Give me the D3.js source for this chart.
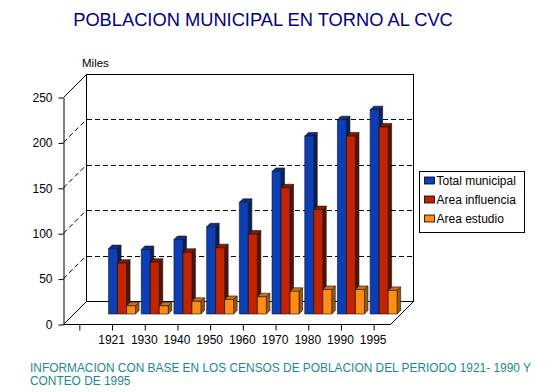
<!DOCTYPE html>
<html lang="es">
<head>
<meta charset="utf-8">
<title>Poblacion municipal</title>
<script src="https://cdnjs.cloudflare.com/ajax/libs/d3/7.8.5/d3.min.js"></script>
<style>
  body { margin: 0; background: #fff; }
  svg { display: block; font-family: "Liberation Sans", Arial, sans-serif; }
  .axis text { font-size: 12px; fill: #000; }
  .axis path, .axis line { stroke: #000; }
</style>
</head>
<body>
<div id="chart"></div>
<script>
// data (miles de habitantes)
const years = ["1921", "1930", "1940", "1950", "1960", "1970", "1980", "1990", "1995"];
const totalMunicipal = [72, 71, 82, 96, 123, 157, 196, 214, 225];
const areaInfluencia = [56, 57, 68, 73, 88, 139, 115, 196, 206];
const areaEstudio = [9, 9, 14, 16, 19, 25, 27, 27, 26];
const seriesNames = ["Total municipal", "Area influencia", "Area estudio"];
const yTicks = [0, 50, 100, 150, 200, 250];
const gridValues = [50, 100, 150, 200];

const width = 550, height = 392;
const plotLeft = 63, plotRight = 390, plotBottom = 324, plotTop = 97;
const depth = 23;      // offset of back wall
const barZ = 10;       // how far back the bars stand
const barD = 3.5;      // bar thickness

// colours: front, top, side
const colors = [
  ["#0c3fb6", "#0a2f8c", "#07215f"],
  ["#c22300", "#8c1a00", "#5a1200"],
  ["#ff8c14", "#c77416", "#9a5a0e"]
];

const svg = d3.select("#chart").append("svg")
  .attr("width", width)
  .attr("height", height);

const step = (plotRight - plotLeft) / (years.length + 1);
const x = d3.scaleBand().domain(years).range([plotLeft + step, plotRight]);
const y = d3.scaleLinear().domain([0, 250]).range([plotBottom, plotTop]);
const s = d3.scaleBand().domain(seriesNames).range([-13.5, 13.5]);

const values = [totalMunicipal, areaInfluencia, areaEstudio];

// walls and floor
const walls = svg.append("g").attr("fill", "#fff").attr("stroke", "#000").attr("stroke-width", 1);
walls.append("rect")
  .attr("x", plotLeft + depth + 0.5).attr("y", y(250) - depth + 0.5)
  .attr("width", plotRight - plotLeft).attr("height", y(0) - y(250));
walls.append("path")
  .attr("d", d3.line()([[plotLeft, y(0)], [plotRight, y(0)], [plotRight + depth, y(0) - depth], [plotLeft + depth, y(0) - depth]]) + "Z")
  .attr("transform", "translate(0.5,0.5)");
walls.append("line")
  .attr("x1", plotLeft + 0.5).attr("y1", y(250) + 0.5)
  .attr("x2", plotLeft + depth + 0.5).attr("y2", y(250) - depth + 0.5);

// dashed grid lines on back and side walls
const grid = svg.append("g").attr("stroke", "#000").attr("stroke-dasharray", "5,3").attr("fill", "none");
grid.selectAll("line.back").data(gridValues).enter().append("line")
  .attr("class", "back")
  .attr("x1", plotLeft + depth + 1).attr("x2", plotRight + depth)
  .attr("y1", d => Math.round(y(d) - depth) + 0.5)
  .attr("y2", d => Math.round(y(d) - depth) + 0.5);
grid.selectAll("line.side").data(gridValues).enter().append("line")
  .attr("class", "side")
  .attr("x1", plotLeft + 0.5).attr("y1", d => y(d))
  .attr("x2", plotLeft + depth + 0.5).attr("y2", d => y(d) - depth);

// bars
const bars = [];
years.forEach((yr, i) => {
  seriesNames.forEach((name, j) => {
    bars.push({ year: yr, series: j, value: values[j][i], name: name });
  });
});

const barG = svg.append("g").attr("stroke", "#111").attr("stroke-width", 0.6).attr("stroke-linejoin", "round");
bars.forEach(d => {
  const x0 = x(d.year) + x.bandwidth() / 2 + s(d.name) + barZ;
  const w = s.bandwidth();
  const yb = y(0) - barZ;
  const yt = y(d.value) - barZ;
  const c = colors[d.series];
  barG.append("path")
    .attr("d", d3.line()([[x0 + w, yt], [x0 + w + barD, yt - barD], [x0 + w + barD, yb - barD], [x0 + w, yb]]) + "Z")
    .attr("fill", c[2]);
  barG.append("path")
    .attr("d", d3.line()([[x0, yt], [x0 + barD, yt - barD], [x0 + w + barD, yt - barD], [x0 + w, yt]]) + "Z")
    .attr("fill", c[1]);
  barG.append("rect")
    .attr("x", x0).attr("y", yt)
    .attr("width", w).attr("height", yb - yt)
    .attr("fill", c[0]);
});

// axes
const yAxis = d3.axisLeft(y).tickValues(yTicks).tickSize(5).tickSizeOuter(0).tickPadding(6);
svg.append("g")
  .attr("class", "axis y")
  .attr("transform", `translate(${plotLeft + 0.5},0.5)`)
  .call(yAxis)
  .selectAll("text").attr("font-size", "12.5px");

const xAxis = d3.axisBottom(x).tickSize(6).tickSizeOuter(0).tickPadding(5);
const xg = svg.append("g")
  .attr("class", "axis x")
  .attr("transform", `translate(0.5,${plotBottom + 0.5})`)
  .call(xAxis);
xg.select(".domain").remove();
xg.selectAll(".tick text").attr("dx", -1);
xg.append("line")
  .attr("x1", plotLeft + step / 2).attr("x2", plotLeft + step / 2)
  .attr("y1", 0).attr("y2", 6)
  .attr("stroke", "#000");

// legend
const legend = svg.append("g").attr("transform", "translate(419.5,171.5)");
legend.append("rect")
  .attr("width", 105).attr("height", 61)
  .attr("fill", "#fff").attr("stroke", "#000");
const item = legend.selectAll("g.item").data(seriesNames).enter().append("g")
  .attr("class", "item")
  .attr("transform", (d, i) => `translate(5,${9 + i * 19})`);
item.append("rect")
  .attr("width", 10).attr("height", 7).attr("y", -3.5)
  .attr("fill", (d, i) => colors[i][0])
  .attr("stroke", "#000").attr("stroke-width", 0.8);
item.append("text")
  .attr("x", 12).attr("dy", "0.35em")
  .attr("font-size", "12px")
  .text(d => d);

// titles
svg.append("text")
  .attr("x", 263).attr("y", 26)
  .attr("text-anchor", "middle")
  .attr("font-size", "18.3px")
  .attr("fill", "#000080")
  .text("POBLACION MUNICIPAL EN TORNO AL CVC");

svg.append("text")
  .attr("x", 82).attr("y", 67)
  .attr("font-size", "11.5px")
  .text("Miles");

const note = svg.append("text")
  .attr("font-size", "11.9px")
  .attr("fill", "#1c8a8a");
note.append("tspan").attr("x", 30).attr("y", 372)
  .text("INFORMACION CON BASE EN LOS CENSOS DE POBLACION DEL PERIODO 1921- 1990 Y");
note.append("tspan").attr("x", 30).attr("y", 385)
  .text("CONTEO DE 1995");
</script>
</body>
</html>
